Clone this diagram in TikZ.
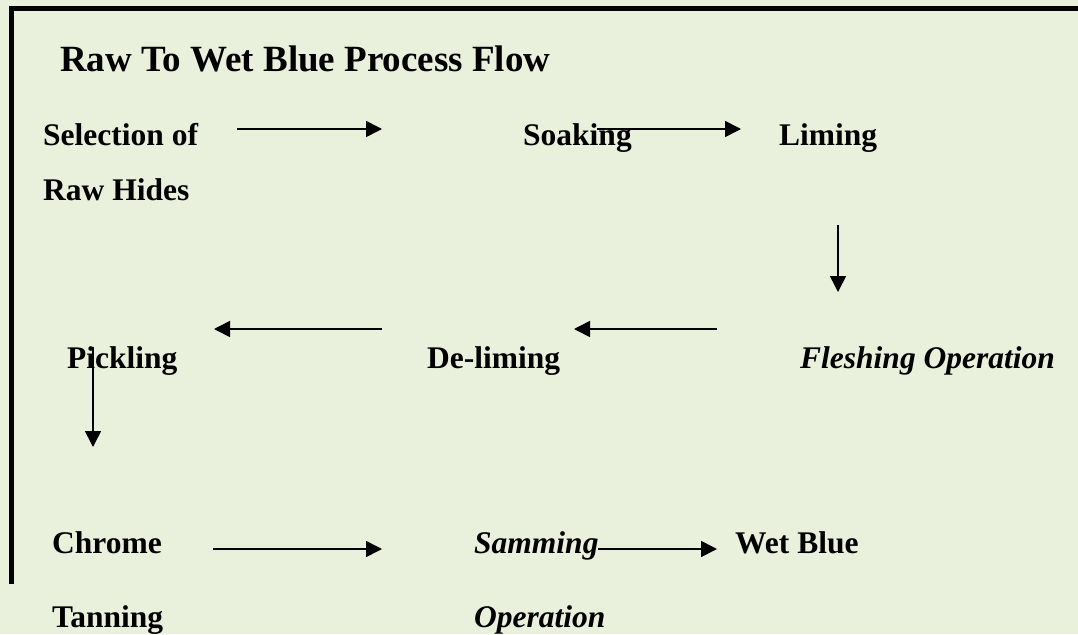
\documentclass[tikz,border=0pt]{standalone}
\usepackage{fontspec}
\setmainfont{Liberation Serif}
\usetikzlibrary{arrows.meta}
\definecolor{bgc}{RGB}{233,240,220}
\tikzset{
  lbl/.style={anchor=base west, inner sep=0pt, font=\fontsize{31.5}{36}\selectfont\bfseries},
  ilbl/.style={lbl, font=\fontsize{31.5}{36}\selectfont\bfseries\itshape},
  ttl/.style={anchor=base west, inner sep=0pt, font=\fontsize{37}{42}\selectfont\bfseries},
  flow/.style={line width=1.6pt, -{Triangle[length=16pt,width=16pt]}},
  frame/.style={line width=5pt}
}
\begin{document}
\begin{tikzpicture}[x=1pt,y=-1pt]
\fill[bgc] (0,0) rectangle (1078,634);
\useasboundingbox (0,0) rectangle (1078,634);
% frame
\coordinate (fr1) at (1078,8.5);
\coordinate (fr2) at (11.5,8.5);
\coordinate (fr3) at (11.5,584);
\draw[frame] (fr1) -- (fr2) -- (fr3);
% title
\node[ttl] (title) at (60,71.5) {Raw To Wet Blue Process Flow};
% row 1
\node[lbl] (sel1) at (43,145.5) {Selection of};
\node[lbl] (sel2) at (43,200) {Raw Hides};
\node[lbl] (soak) at (523,145.5) {Soaking};
\node[lbl] (lime) at (779,145.5) {Liming};
% row 2
\node[lbl] (pick) at (67,368) {Pickling};
\node[lbl] (delime) at (427,368) {De-liming};
\node[ilbl] (flesh) at (800,368) {Fleshing Operation};
% row 3
\node[lbl] (chr1) at (52,553) {Chrome};
\node[lbl] (chr2) at (52,627) {Tanning};
\node[ilbl] (sam1) at (474,553) {Samming};
\node[ilbl] (sam2) at (474,627) {Operation};
\node[lbl] (wet) at (735,553) {Wet Blue};
% arrow coordinates
\coordinate (a1s) at (237,129);  \coordinate (a1e) at (382,129);
\coordinate (a2s) at (597,129);  \coordinate (a2e) at (741,129);
\coordinate (a3s) at (838,225);  \coordinate (a3e) at (838,292);
\coordinate (a4s) at (717,329);  \coordinate (a4e) at (574,329);
\coordinate (a5s) at (382,329);  \coordinate (a5e) at (214,329);
\coordinate (a6s) at (93,347);   \coordinate (a6e) at (93,447);
\coordinate (a7s) at (213,549);  \coordinate (a7e) at (382,549);
\coordinate (a8s) at (598,549);  \coordinate (a8e) at (717,549);
\draw[flow] (a1s) -- (a1e);
\draw[flow] (a2s) -- (a2e);
\draw[flow] (a3s) -- (a3e);
\draw[flow] (a4s) -- (a4e);
\draw[flow] (a5s) -- (a5e);
\draw[flow] (a6s) -- (a6e);
\draw[flow] (a7s) -- (a7e);
\draw[flow] (a8s) -- (a8e);
\end{tikzpicture}
\end{document}
